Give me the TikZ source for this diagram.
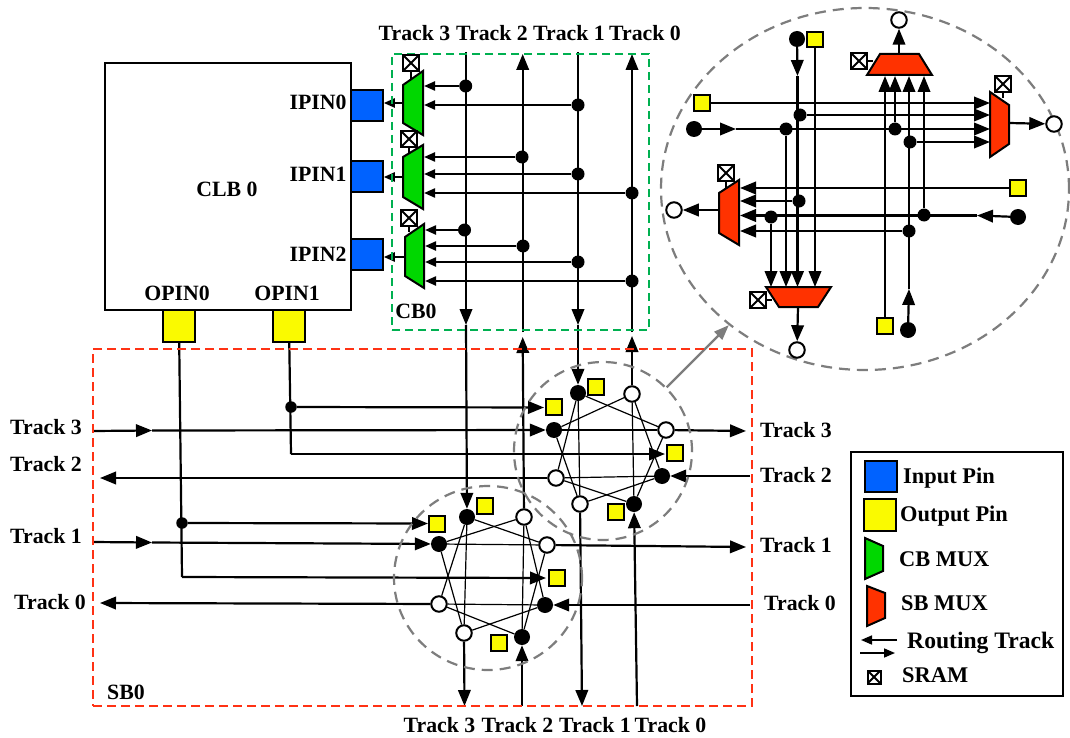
\documentclass[tikz,border=0pt]{standalone}
\usepackage{fontspec}
\setmainfont{Liberation Serif}
\usetikzlibrary{arrows.meta,shapes.geometric,backgrounds}
\definecolor{pinblue}{RGB}{0,98,255}
\definecolor{pinyellow}{RGB}{250,250,0}
\definecolor{muxgreen}{RGB}{0,215,0}
\definecolor{muxred}{RGB}{255,50,0}
\definecolor{cbdash}{RGB}{0,176,80}
\definecolor{sbdash}{RGB}{255,50,20}
\definecolor{swgray}{RGB}{125,125,125}
\tikzset{
  lab/.style={font=\fontsize{21.8}{26}\selectfont\bfseries,inner sep=0pt},
  leglab/.style={font=\fontsize{22.4}{26}\selectfont\bfseries,inner sep=0pt,anchor=west},
  con/.style={line width=2.2pt},
  arr/.style={con,-{Triangle[length=16pt,width=12.5pt]}},
  arrs/.style={con,-{Triangle[length=11pt,width=9pt]}},
  thin link/.style={line width=1.2pt},
  fdot/.style={circle,fill=black,inner sep=0pt,minimum size=13pt},
  fnode/.style={circle,fill=black,inner sep=0pt,minimum size=16pt},
  onode/.style={circle,draw=black,fill=white,line width=2pt,inner sep=0pt,minimum size=15.5pt},
  ysq/.style={rectangle,draw=black,fill=pinyellow,line width=2pt,inner sep=0pt,minimum size=15.5pt},
  bigpin/.style={rectangle,draw=black,line width=2pt,inner sep=0pt,minimum size=31.5pt},
  sram/.style={rectangle,draw=black,fill=white,line width=2pt,inner sep=0pt,minimum size=15.5pt,
    path picture={\draw[line width=2pt] (path picture bounding box.north west)--(path picture bounding box.south east)
    (path picture bounding box.north east)--(path picture bounding box.south west);}},
  muxg/.style={draw=black,fill=muxgreen,line width=2pt,line join=miter},
  muxr/.style={draw=black,fill=muxred,line width=2pt,line join=miter},
  swcirc/.style={ellipse,draw=swgray,line width=2.2pt,dash pattern=on 11pt off 7pt,inner sep=0pt},
}
\begin{document}
\begin{tikzpicture}[x=1pt,y=-1pt]
\useasboundingbox (0,0) rectangle (1070,738);
% regions
\node[rectangle,draw=black,line width=2.2pt,inner sep=0pt,minimum width=246pt,minimum height=247pt] (clb) at (228,186.5) {};
\node[rectangle,draw=cbdash,line width=2.2pt,dash pattern=on 8pt off 5pt,inner sep=0pt,minimum width=257pt,minimum height=276pt] (cb) at (520.5,192) {};
\node[rectangle,draw=sbdash,line width=2.2pt,dash pattern=on 9pt off 5pt,inner sep=0pt,minimum width=659pt,minimum height=357pt] (sb) at (422.5,527.5) {};
\node[swcirc,minimum width=178pt,minimum height=178pt] (swu) at (603,451) {};
\node[swcirc,minimum width=188pt,minimum height=184pt] (swl) at (488,578) {};
\node[swcirc,minimum width=408pt,minimum height=362pt] (big) at (865,189) {};
% pins
\node[bigpin,fill=pinblue] (ip0) at (367,105.5) {};
\node[bigpin,fill=pinblue] (ip1) at (367,176.5) {};
\node[bigpin,fill=pinblue] (ip2) at (367,254.5) {};
\node[bigpin,fill=pinyellow] (op0) at (179,326) {};
\node[bigpin,fill=pinyellow] (op1) at (289,326) {};
% CB muxes
\draw[muxg] (403,85)--(423,71)--(423,135)--(403,123)--cycle;
\draw[muxg] (403,157)--(423,145)--(423,209)--(403,197)--cycle;
\draw[muxg] (405,237)--(424,224)--(424,288)--(405,276)--cycle;
\coordinate (m0r) at (424,100); \coordinate (m0l) at (403,103); \coordinate (m0s) at (411,79);
\coordinate (m1r) at (424,180); \coordinate (m1l) at (403,177); \coordinate (m1s) at (409,153);
\coordinate (m2r) at (425,250); \coordinate (m2l) at (405,257); \coordinate (m2s) at (409,232);
\node[sram] (s0) at (411,63) {};
\node[sram] (s1) at (409,139) {};
\node[sram] (s2) at (409,218) {};
% CB dots
\node[fdot] (c00) at (465.7,86) {};
\node[fdot] (c01) at (578,105) {};
\node[fdot] (c10) at (522,157) {};
\node[fdot] (c11) at (578,174) {};
\node[fdot] (c12) at (632,193) {};
\node[fdot] (c20) at (464.5,230) {};
\node[fdot] (c21) at (523,246) {};
\node[fdot] (c22) at (578,262) {};
\node[fdot] (c23) at (632,281) {};
% upper switch
\node[fnode] (ui0) at (578,393) {};
\node[fnode] (ui1) at (554,430) {};
\node[fnode] (ui2) at (662,476) {};
\node[fnode] (ui3) at (634,504) {};
\node[onode] (uo0) at (632,394) {};
\node[onode] (uo1) at (666,430) {};
\node[onode] (uo2) at (556,478) {};
\node[onode] (uo3) at (580,504) {};
\node[ysq] (uy0) at (596,387) {};
\node[ysq] (uy1) at (554,407) {};
\node[ysq] (uy2) at (675,453) {};
\node[ysq] (uy3) at (616,512) {};
% lower switch
\node[fnode] (li0) at (467,517) {};
\node[fnode] (li1) at (439,544) {};
\node[fnode] (li2) at (545,605) {};
\node[fnode] (li3) at (522,637) {};
\node[onode] (lo0) at (524,517) {};
\node[onode] (lo1) at (547,545) {};
\node[onode] (lo2) at (439,604) {};
\node[onode] (lo3) at (464,633) {};
\node[ysq] (ly0) at (485,506) {};
\node[ysq] (ly1) at (437,524) {};
\node[ysq] (ly2) at (557,578) {};
\node[ysq] (ly3) at (499,643) {};
% OPIN branch dots
\node[fdot,minimum size=11.5pt] (o0d) at (182,523) {};
\node[fdot,minimum size=11.5pt] (o1d) at (291,407) {};
% free ends
\coordinate (t3) at (466,52); \coordinate (t1) at (578,52);
\coordinate (t2) at (522.7,54); \coordinate (t0) at (632,54);
\coordinate (cm3) at (466,325); \coordinate (cm1) at (578,325);
\coordinate (cm2) at (522.7,332); \coordinate (cm0) at (632,332);
\coordinate (cn2) at (522.7,337); \coordinate (cn0) at (632,336);
\coordinate (b3) at (464.5,706); \coordinate (b2) at (522,706);
\coordinate (b1) at (582,706); \coordinate (b0) at (637,706);
\coordinate (l3) at (93,431); \coordinate (l3a) at (152,430.5);
\coordinate (l2) at (100,478);
\coordinate (l1) at (93,542); \coordinate (l1a) at (152,542.5);
\coordinate (l0) at (100,603);
\coordinate (r3) at (746,431); \coordinate (r2) at (750,476);
\coordinate (r1) at (746,547); \coordinate (r0) at (750,605);
\coordinate (o0e) at (182,577); \coordinate (o1e) at (291,454);
\coordinate (o0t1) at (428,523.5); \coordinate (o0t2) at (546,578);
\coordinate (o1t1) at (544,407.5); \coordinate (o1t2) at (665,454);
% detail view muxes
\draw[muxr] (867,75)--(932,75)--(919,54)--(880,54)--cycle;
\draw[muxr] (990,92)--(1009,105)--(1009,144)--(990,157)--cycle;
\draw[muxr] (719,193)--(739,180)--(739,245)--(719,233)--cycle;
\draw[muxr] (766,287)--(831,287)--(818,307)--(779,307)--cycle;
\coordinate (bt) at (899,54); \coordinate (bts) at (873,61);
\coordinate (brr) at (1009,123); \coordinate (brs) at (1003,98); \coordinate (brl) at (990,120);
\coordinate (bll) at (719,210); \coordinate (bls) at (726,188); \coordinate (blr) at (740,210);
\coordinate (bbb) at (798,307); \coordinate (bbs) at (772,300); \coordinate (bbt) at (798,287);
\coordinate (btb) at (899,76);
\node[sram] (bs0) at (859,61) {};
\node[sram] (bs1) at (1003,84) {};
\node[sram] (bs2) at (726,173) {};
\node[sram] (bs3) at (758,300) {};
\node[onode] (bo0) at (899,20) {};
\node[onode] (bo1) at (1054,124) {};
\node[onode] (bo2) at (674,210) {};
\node[onode] (bo3) at (797,350) {};
\node[ysq] (by0) at (702,103) {};
\node[ysq] (by1) at (815,39.5) {};
\node[ysq] (by2) at (1018,188) {};
\node[ysq] (by3) at (885,326) {};
\node[fnode] (bf0) at (694,129) {};
\node[fnode] (bf1) at (797,39) {};
\node[fnode] (bf2) at (1018,217) {};
\node[fnode] (bf3) at (908,330) {};
\node[fdot] (bd0) at (786,129) {};
\node[fdot] (bd1) at (895,129) {};
\node[fdot] (bd2) at (800,115) {};
\node[fdot] (bd3) at (799,201) {};
\node[fdot] (bd4) at (924,215) {};
\node[fdot] (bd5) at (771,217) {};
\node[fdot] (bd6) at (910,142) {};
\node[fdot] (bd7) at (909,231) {};
\coordinate (ba0) at (736,129); \coordinate (ba1) at (797.5,76);
\coordinate (ba2) at (977,215.5); \coordinate (ba3) at (909,289);
% legend
\node[rectangle,draw=black,line width=2.2pt,inner sep=0pt,minimum width=212pt,minimum height=244pt] (leg) at (957,574) {};
\node[bigpin,fill=pinblue] (lb) at (881,476.5) {};
\node[bigpin,fill=pinyellow] (ly) at (880,515) {};
\draw[muxg] (865,538)--(883,546)--(883,571)--(865,579)--cycle;
\draw[muxr] (867,586)--(885,593)--(885,618)--(867,626)--cycle;
\coordinate (la1) at (897,640); \coordinate (la2) at (861,640);
\coordinate (la3) at (860,653); \coordinate (la4) at (895,653);
\node[sram,minimum size=13pt] (ls) at (874,677) {};
% labels
\foreach \n/\x/\y/\t in {tt3/414.5/33/Track 3,tt2/492/33/Track 2,tt1/569/33/Track 1,tt0/645/33/Track 0,
  bt3/439.5/725/Track 3,bt2/517.5/725/Track 2,bt1/595/725/Track 1,bt0/670.5/725/Track 0,
  lt3/46/427/Track 3,lt2/46/464/Track 2,lt1/46/536/Track 1,lt0/50/602/Track 0,
  rt3/796/430/Track 3,rt2/796/475/Track 2,rt1/796/545/Track 1,rt0/800/603/Track 0,
  ipl0/318/102/IPIN0,ipl1/318/174/IPIN1,ipl2/318/254/IPIN2,opl0/177/293/OPIN0,opl1/287/293/OPIN1,
  clbl/227/189/CLB 0,cbl/416/311/CB0,sbl/126/692/SB0}
  {\node[lab] (\n) at (\x,\y) {\t};}
\foreach \n/\x/\y/\t in {k0/903/478/Input Pin,k1/900/516/Output Pin,k2/899/559/CB MUX,k3/901/603/SB MUX,k5/902/675/SRAM}
  {\node[leglab] (\n) at (\x,\y) {\t};}
\node[leglab,font=\fontsize{23.6}{26}\selectfont\bfseries] (k4) at (907,643) {Routing Track};
\begin{pgfonlayer}{background}
\fill[white] (0,0) rectangle (1070,738);
% CB
\draw[arrs] (m0l) -- (m0l -| ip0.east);
\draw[arrs] (m1l) -- (m1l -| ip1.east);
\draw[arrs] (m2l) -- (m2l -| ip2.east);
\draw[con,line width=1.5pt] (s0) -- (m0s);
\draw[con,line width=1.5pt] (s1) -- (m1s);
\draw[con,line width=1.5pt] (s2) -- (m2s);
\draw[arrs] (c00) -- (c00 -| m0r);
\draw[arrs] (c01) -- (c01 -| m0r);
\draw[arrs] (c10) -- (c10 -| m1r);
\draw[arrs] (c11) -- (c11 -| m1r);
\draw[arrs] (c12) -- (c12 -| m1r);
\draw[arrs] (c20) -- (c20 -| m2r);
\draw[arrs] (c21) -- (c21 -| m2r);
\draw[arrs] (c22) -- (c22 -| m2r);
\draw[arrs] (c23) -- (c23 -| m2r);
% vertical tracks
\draw[arr] (t3) -- (cm3);
\draw[arr] (cm3) -- (li0);
\draw[arr] (lo3) -- (b3);
\draw[arr] (b2) -- (li3);
\draw[arr] (lo0) -- (cn2);
\draw[arr] (cm2) -- (t2);
\draw[arr] (t1) -- (cm1);
\draw[arr] (cm1) -- (ui0);
\draw[arr] (uo3) -- (b1);
\draw[arr] (b0) -- (ui3);
\draw[arr] (uo0) -- (cn0);
\draw[arr] (cm0) -- (t0);
% horizontal tracks
\draw[arr] (l3) -- (l3a);
\draw[arr] (l3a) -- (ui1);
\draw[arr] (uo1) -- (r3);
\draw[arr] (r2) -- (ui2);
\draw[arr] (uo2) -- (l2);
\draw[arr] (l1) -- (l1a);
\draw[arr] (l1a) -- (li1);
\draw[arr] (lo1) -- (r1);
\draw[arr] (r0) -- (li2);
\draw[arr] (lo2) -- (l0);
% OPIN wires
\draw[con] (op0) -- (o0e);
\draw[arr] (o0d) -- (o0t1);
\draw[arr] (o0e) -- (o0t2);
\draw[con] (op1) -- (o1e);
\draw[arr] (o1d) -- (o1t1);
\draw[arr] (o1e) -- (o1t2);
% switch links
\foreach \a/\b in {ui0/uo1,ui0/uo2,ui0/uo3,ui1/uo0,ui1/uo1,ui1/uo3,ui2/uo0,ui2/uo2,ui2/uo3,ui3/uo0,ui3/uo1,ui3/uo2,
  li0/lo1,li0/lo2,li0/lo3,li1/lo0,li1/lo1,li1/lo3,li2/lo0,li2/lo2,li2/lo3,li3/lo0,li3/lo1,li3/lo2}
  {\draw[thin link] (\a) -- (\b);}
% pointer
\draw[swgray,line width=2.2pt,-{Triangle[length=15pt,width=11pt]}] (swu.45) -- (big.225);
% detail view
\draw[arr] (by0) -- (by0 -| brl);
\draw[arr] (bf0) -- (ba0);
\draw[arr] (ba0) -- (ba0 -| brl);
\draw[arr] (bd0) -- (bd0 |- bbt);
\draw[arr] (bd1) -- (bd1 |- btb);
\draw[arr] (bf1) -- (ba1);
\draw[arr] (ba1) -- (ba1 |- bbt);
\draw[arr] (bd2) -- (bd2 -| brl);
\draw[arr] (bd3) -- (bd3 -| blr);
\draw[arr] (by1) -- (by1 |- bbt);
\draw[arr] (by2) -- (by2 -| blr);
\draw[arr] (bf2) -- (ba2);
\draw[arr] (ba2) -- (ba2 -| blr);
\draw[arr] (bd4) -- (bd4 |- btb);
\draw[arr] (bd5) -- (bd5 |- bbt);
\draw[arr] (bf3) -- (ba3);
\draw[arr] (ba3) -- (ba3 |- btb);
\draw[arr] (bd6) -- (bd6 -| brl);
\draw[arr] (bd7) -- (bd7 -| blr);
\draw[arr] (by3) -- (by3 |- btb);
\draw[arr] (bt) -- (bo0);
\draw[arr] (brr) -- (bo1);
\draw[arr] (bll) -- (bo2);
\draw[arr] (bbb) -- (bo3);
\draw[con,line width=1.5pt] (bs0) -- (bts);
\draw[con,line width=1.5pt] (bs1) -- (brs);
\draw[con,line width=1.5pt] (bs2) -- (bls);
\draw[con,line width=1.5pt] (bs3) -- (bbs);
% legend arrows
\draw[arrs,line width=1.6pt] (la1) -- (la2);
\draw[arrs,line width=1.6pt] (la3) -- (la4);
\end{pgfonlayer}
\end{tikzpicture}
\end{document}
